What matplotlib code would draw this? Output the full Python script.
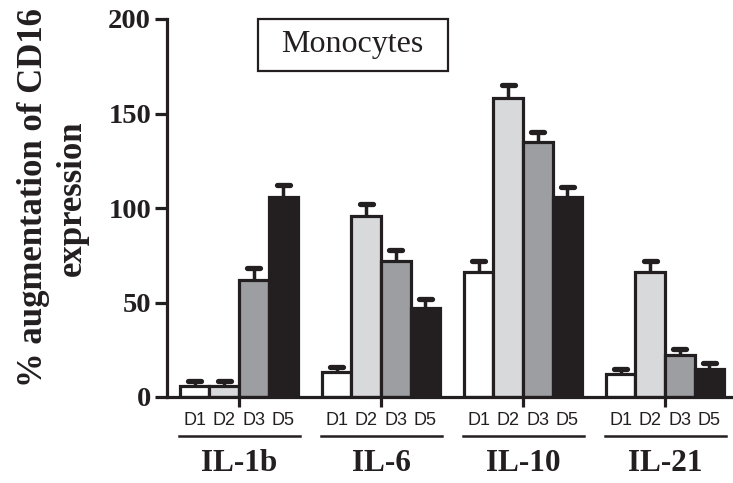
import numpy as np
import matplotlib
matplotlib.use('Agg')
import matplotlib.pyplot as plt
from matplotlib.patches import Rectangle

# data
cytokines = ['IL-1b', 'IL-6', 'IL-10', 'IL-21']
days = ['D1', 'D2', 'D3', 'D5']
d1 = [6, 13, 66, 12]
d2 = [6, 96, 158, 66]
d3 = [62, 72, 135, 22]
d5 = [106, 47, 106, 15]
d1_err = [2.5, 3, 6, 3]
d2_err = [2.5, 6, 7, 6]
d3_err = [6, 6, 5, 3.5]
d5_err = [6, 5, 5, 3]

colors = ['white', '#d8d9db', '#9c9ea1', '#231f20']
serif = ['Liberation Serif', 'DejaVu Serif']
sans = ['Liberation Sans', 'DejaVu Sans']

fig = plt.figure(figsize=(7.33, 4.83), dpi=100)
ax = fig.add_axes([167/733, 1-397/483, 1-167/733, 378/483])

x = np.arange(len(cytokines))
w = 0.208
offs = np.array([-1.5, -0.5, 0.5, 1.5]) * w
vals = [d1, d2, d3, d5]
errs = [d1_err, d2_err, d3_err, d5_err]

for i in range(4):
    xi = x + offs[i]
    v = np.array(vals[i])
    e = np.array(errs[i])
    ax.vlines(xi, v, v + e, colors='#231f20', lw=2.5, zorder=1)
    ax.hlines(v + e, xi - 0.045, xi + 0.045, colors='#231f20', lw=3.8,
              capstyle='round', zorder=1)
    ax.bar(xi, v, w, color=colors[i], edgecolor='#231f20', lw=2.3, zorder=2)

ax.set_xlim(-0.507, 3.479)
ax.set_ylim(0, 200)
ax.set_yticks([0, 50, 100, 150, 200])
ax.set_xticks(x)
ax.set_xticklabels([])
for s in ['top', 'right']:
    ax.spines[s].set_visible(False)
for s in ['left', 'bottom']:
    ax.spines[s].set_linewidth(2.3)
    ax.spines[s].set_color('#231f20')
ax.tick_params(axis='y', length=8.5, width=2.3, color='#231f20', pad=3)
ax.tick_params(axis='x', length=7, width=2.3, color='#231f20')
for lab in ax.get_yticklabels():
    lab.set_fontfamily(serif)
    lab.set_fontweight('bold')
    lab.set_fontsize(20.5)
    lab.set_color('#231f20')

trans = ax.get_xaxis_transform()
for g in range(len(cytokines)):
    for i in range(4):
        ax.text(x[g] + offs[i], -0.061, days[i], transform=trans, ha='center',
                va='center', fontsize=13, family=sans, color='#231f20')
    ax.plot([x[g] - 0.42, x[g] + 0.43], [-0.103, -0.103], transform=trans,
            color='#231f20', lw=1.8, clip_on=False)
    ax.text(x[g], -0.177, cytokines[g], transform=trans, ha='center',
            va='center', fontsize=22.5, fontweight='bold', family=serif,
            color='#231f20')

# label box
ax.add_patch(Rectangle((0.134, 172.5), 1.338, 27.5, fill=False,
                       edgecolor='#231f20', lw=1.6, clip_on=False))
ax.text(0.80, 186.5, 'Monocytes', ha='center', va='center', fontsize=23,
        family=serif, color='#231f20')

fig.text(53/733, 0.59, '% augmentation of CD16\nexpression', rotation=90,
         ha='center', va='center', multialignment='center', fontsize=25,
         fontweight='bold', family=serif, color='#231f20', linespacing=1.25)

fig.savefig('out.png', dpi=100)
